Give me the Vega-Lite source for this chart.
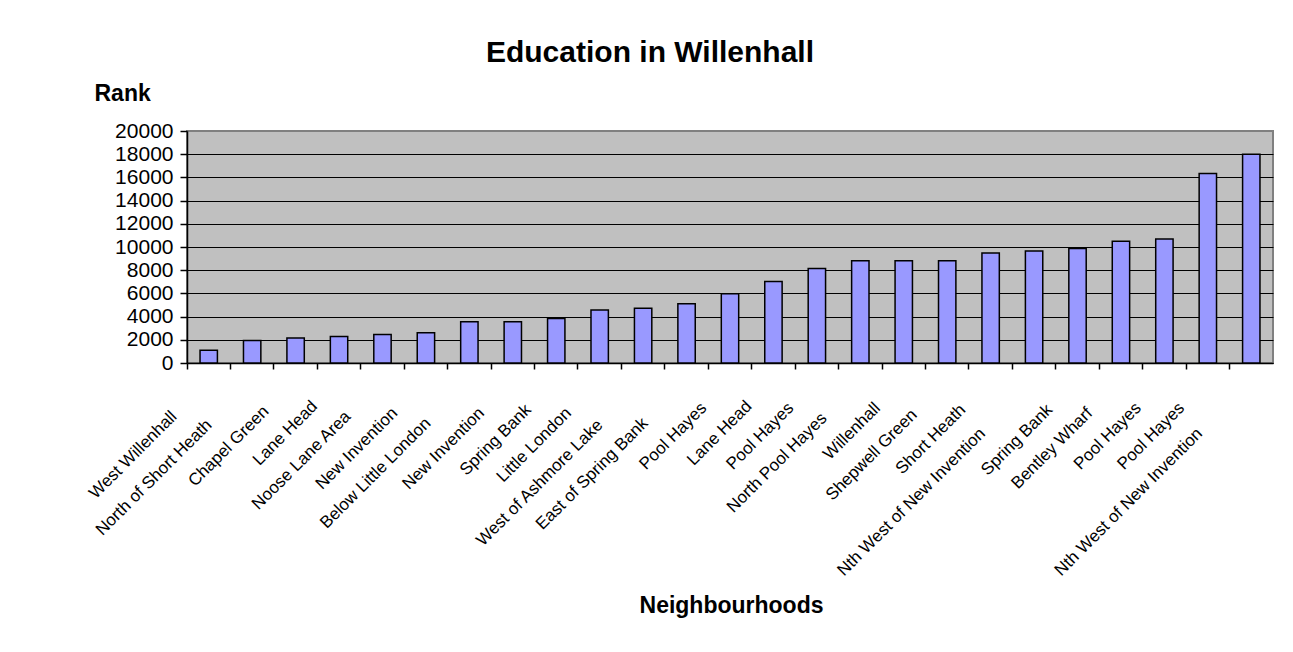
{
  "$schema": "https://vega.github.io/schema/vega-lite/v6.json",
  "width": 1086,
  "height": 232,
  "autosize": {"type": "none"},
  "padding": {"left": 187, "top": 131, "right": 20, "bottom": 289},
  "background": "white",
  "title": {
    "text": "Education in Willenhall",
    "font": "Liberation Sans",
    "fontSize": 30,
    "fontWeight": "bold",
    "color": "black",
    "anchor": "middle",
    "frame": "group",
    "dx": -80,
    "offset": 14
  },
  "data": {
    "values": [
      {"key": "01|West Willenhall", "rank": 1100},
      {"key": "02|North of Short Heath", "rank": 1950},
      {"key": "03|Chapel Green", "rank": 2160},
      {"key": "04|Lane Head", "rank": 2290},
      {"key": "05|Noose Lane Area", "rank": 2450},
      {"key": "06|New Invention", "rank": 2610},
      {"key": "07|Below Little London", "rank": 3550},
      {"key": "08|New Invention", "rank": 3550},
      {"key": "09|Spring Bank", "rank": 3840},
      {"key": "10|Little London", "rank": 4570},
      {"key": "11|West of Ashmore Lake", "rank": 4720},
      {"key": "12|East of Spring Bank", "rank": 5100},
      {"key": "13|Pool Hayes", "rank": 5970},
      {"key": "14|Lane Head", "rank": 7030},
      {"key": "15|Pool Hayes", "rank": 8140},
      {"key": "16|North Pool Hayes", "rank": 8820},
      {"key": "17|Willenhall", "rank": 8820},
      {"key": "18|Shepwell Green", "rank": 8820},
      {"key": "19|Short Heath", "rank": 9490},
      {"key": "20|Nth West of New Invention", "rank": 9660},
      {"key": "21|Spring Bank", "rank": 9860},
      {"key": "22|Bentley Wharf", "rank": 10500},
      {"key": "23|Pool Hayes", "rank": 10690},
      {"key": "24|Pool Hayes", "rank": 16330},
      {"key": "25|Nth West of New Invention", "rank": 18000}
    ]
  },
  "mark": {
    "type": "bar",
    "fill": "#9999FF",
    "stroke": "black",
    "strokeWidth": 1.5,
    "width": {"band": 0.4}
  },
  "encoding": {
    "x": {
      "field": "key",
      "type": "nominal",
      "sort": null,
      "scale": {"paddingInner": 0, "paddingOuter": 0},
      "axis": {
        "title": "Neighbourhoods",
        "labelExpr": "split(datum.value, '|')[1]",
        "bandPosition": 0,
        "labelAngle": -45,
        "labelAlign": "right",
        "labelBaseline": "middle",
        "labelPadding": {"expr": "19 + 1.7 * length(split(datum.value, '|')[1])"},
        "labelOffset": {"expr": "-9 - 1.7 * length(split(datum.value, '|')[1])"},
        "labelFont": "Liberation Sans",
        "labelFontSize": 17,
        "labelColor": "black",
        "labelOverlap": false,
        "labelLimit": 0,
        "tickColor": "black",
        "tickSize": 6,
        "tickWidth": 1.5,
        "domainColor": "black",
        "domainWidth": 1.5,
        "grid": false,
        "titleFont": "Liberation Sans",
        "titleFontSize": 23,
        "titleFontWeight": "bold",
        "titleColor": "black",
        "titleX": 544,
        "titleY": 249,
        "titleAlign": "center",
        "titleBaseline": "alphabetic"
      }
    },
    "y": {
      "field": "rank",
      "type": "quantitative",
      "scale": {"domain": [0, 20000], "nice": false},
      "axis": {
        "title": "Rank",
        "values": [0, 2000, 4000, 6000, 8000, 10000, 12000, 14000, 16000, 18000, 20000],
        "format": "d",
        "labelFont": "Liberation Sans",
        "labelFontSize": 21,
        "labelColor": "black",
        "labelPadding": 7,
        "tickColor": "black",
        "tickSize": 7,
        "tickWidth": 1.5,
        "domainColor": "black",
        "domainWidth": 1.5,
        "grid": true,
        "gridColor": {"condition": {"test": "datum.value >= 20000", "value": "#808080"}, "value": "black"},
        "gridWidth": 1.2,
        "titleFont": "Liberation Sans",
        "titleFontSize": 23,
        "titleFontWeight": "bold",
        "titleColor": "black",
        "titleAngle": 0,
        "titleAlign": "left",
        "titleBaseline": "alphabetic",
        "titleX": -93,
        "titleY": -31
      }
    }
  },
  "config": {
    "view": {"fill": "#C0C0C0", "stroke": "#808080", "strokeWidth": 2}
  }
}
